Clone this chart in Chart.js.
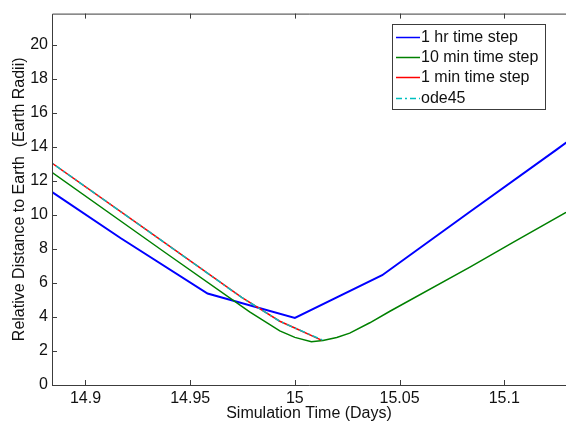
<!DOCTYPE html>
<html>
<head>
<meta charset="utf-8">
<script src="https://cdn.jsdelivr.net/npm/chart.js@4.4.0/dist/chart.umd.min.js"></script>
<style>
  html, body { margin: 0; padding: 0; background: #ffffff; }
  #wrap { width: 566px; height: 426px; position: relative; }
</style>
</head>
<body>
<div id="wrap"><canvas id="c" width="566" height="426"></canvas></div>
<script>
// ---- data ----
const xTicks = [14.9, 14.95, 15, 15.05, 15.1];
const xTickLabels = ['14.9', '14.95', '15', '15.05', '15.1'];
const yTicks = [0, 2, 4, 6, 8, 10, 12, 14, 16, 18, 20];
const seriesNames = ['1 hr time step', '10 min time step', '1 min time step', 'ode45'];

// 1 hr time step
const hrTime = [14.875, 14.9167, 14.9583, 15.0, 15.0417, 15.0833, 15.125, 15.1667];
const hrDist = [12.10, 8.65, 5.38, 3.95, 6.46, 10.16, 13.85, 17.55];

// 10 min time step
const tenTime = [14.875, 14.9375, 14.9784, 14.9928, 15.0, 15.0079, 15.0134, 15.02, 15.0262, 15.0358, 15.0454, 15.0836, 15.104, 15.1295, 15.1389];
const tenDist = [13.30, 7.84, 4.30, 3.18, 2.80, 2.55, 2.62, 2.80, 3.05, 3.66, 4.34, 6.94, 8.38, 10.16, 10.80];

// 1 min time step
const oneTime = [14.875, 14.93, 14.9746, 14.9928, 15.0, 15.0127];
const oneDist = [13.84, 9.05, 5.15, 3.75, 3.35, 2.64];

// ode45
const odeTime = [14.875, 14.93, 14.9746, 14.9928, 15.0, 15.0135];
const odeDist = [13.84, 9.05, 5.15, 3.75, 3.35, 2.63];

const xMin = 14.884, xMax = 15.1295;
const yMin = 0, yMax = 21.85;

const colors = ['#0000ff', '#008000', '#ff0000', '#00bfbf'];
const widths = [2, 1.5, 1.5, 1.5];
const dashes = [[], [], [], [6, 3, 2, 3]];

function pts(xs, ys) { return xs.map((x, i) => ({ x: x, y: ys[i] })); }

const FONT = '"Liberation Sans", Arial, Helvetica, sans-serif';
const FS = 16;
const AXIS_COLOR = '#3c3c3c';

const frameAndTicks = {
  id: 'frameAndTicks',
  afterDatasetsDraw(chart) {
    const ctx = chart.ctx;
    const a = chart.chartArea;
    const xs = chart.scales.x, ys = chart.scales.y;
    ctx.save();
    ctx.strokeStyle = AXIS_COLOR;
    ctx.lineWidth = 1;
    ctx.beginPath();
    ctx.moveTo(a.left + 0.5, a.top + 0.5);
    ctx.lineTo(a.right + 2, a.top + 0.5);
    ctx.moveTo(a.left + 0.5, a.top + 0.5);
    ctx.lineTo(a.left + 0.5, a.bottom + 0.5);
    ctx.lineTo(a.right + 2, a.bottom + 0.5);
    const tl = 5;
    xTicks.forEach(v => {
      const px = Math.round(xs.getPixelForValue(v)) + 0.5;
      ctx.moveTo(px, a.bottom); ctx.lineTo(px, a.bottom - tl);
      ctx.moveTo(px, a.top); ctx.lineTo(px, a.top + tl);
    });
    yTicks.forEach(v => {
      const py = Math.round(ys.getPixelForValue(v)) + 0.5;
      ctx.moveTo(a.left, py); ctx.lineTo(a.left + tl, py);
    });
    ctx.stroke();
    ctx.restore();
  }
};

const boxLegend = {
  id: 'boxLegend',
  afterDraw(chart) {
    const ctx = chart.ctx;
    const L = 392, T = 24, R = 545, B = 109;
    ctx.save();
    ctx.fillStyle = '#ffffff';
    ctx.fillRect(L, T, R - L, B - T);
    ctx.strokeStyle = AXIS_COLOR;
    ctx.lineWidth = 1;
    ctx.strokeRect(L + 0.5, T + 0.5, R - L, B - T);
    const rows = [36.7, 57, 77.3, 98];
    ctx.font = FS + 'px ' + FONT;
    ctx.textBaseline = 'middle';
    ctx.textAlign = 'left';
    chart.data.datasets.forEach((ds, i) => {
      const y = Math.round(rows[i]) + 0.5;
      ctx.strokeStyle = ds.borderColor;
      ctx.lineWidth = 1.5;
      ctx.setLineDash(ds.borderDash || []);
      ctx.beginPath();
      ctx.moveTo(396, y); ctx.lineTo(420, y);
      ctx.stroke();
      ctx.setLineDash([]);
      ctx.fillStyle = '#111111';
      ctx.fillText(ds.label, 421, y + 0.5);
    });
    ctx.restore();
  }
};

const cfg = {
  type: 'line',
  data: {
    datasets: [
      { label: seriesNames[0], data: pts(hrTime, hrDist), order: 3 },
      { label: seriesNames[1], data: pts(tenTime, tenDist), order: 2 },
      { label: seriesNames[2], data: pts(oneTime, oneDist), order: 1 },
      { label: seriesNames[3], data: pts(odeTime, odeDist), order: 0 }
    ].map((d, i) => Object.assign(d, {
      borderColor: colors[i],
      backgroundColor: colors[i],
      borderWidth: widths[i],
      borderDash: dashes[i],
      pointRadius: 0,
      tension: 0,
      fill: false
    }))
  },
  options: {
    responsive: false,
    animation: false,
    devicePixelRatio: 1,
    layout: { padding: { left: 0, right: 0, top: 7, bottom: 0 } },
    plugins: { legend: { display: false }, tooltip: { enabled: false } },
    scales: {
      x: {
        type: 'linear',
        min: xMin, max: xMax,
        afterBuildTicks: s => { s.ticks = xTicks.map(v => ({ value: v })); },
        afterFit: s => { s.height = 41; },
        grid: { display: false, drawTicks: false },
        border: { display: false },
        ticks: {
          padding: 4,
          color: '#111111',
          font: { family: FONT, size: FS },
          maxRotation: 0,
          autoSkip: false,
          callback: (v) => { const k = xTicks.indexOf(v); return k >= 0 ? xTickLabels[k] : ''; }
        },
        title: {
          display: true,
          text: 'Simulation Time (Days)',
          color: '#111111',
          font: { family: FONT, size: FS },
          padding: { top: 0, bottom: 3 }
        }
      },
      y: {
        type: 'linear',
        min: yMin, max: yMax,
        afterBuildTicks: s => { s.ticks = yTicks.map(v => ({ value: v })); },
        afterFit: s => { s.width = 52; },
        grid: { display: false, drawTicks: false },
        border: { display: false },
        ticks: {
          padding: 4,
          color: '#111111',
          font: { family: FONT, size: FS },
          autoSkip: false,
          callback: v => String(v)
        },
        title: {
          display: true,
          text: 'Relative Distance to Earth  (Earth Radii)',
          color: '#111111',
          font: { family: FONT, size: FS },
          padding: { top: 10, bottom: 0 }
        }
      }
    }
  },
  plugins: [frameAndTicks, boxLegend]
};

new Chart(document.getElementById('c'), cfg);
</script>
</body>
</html>
